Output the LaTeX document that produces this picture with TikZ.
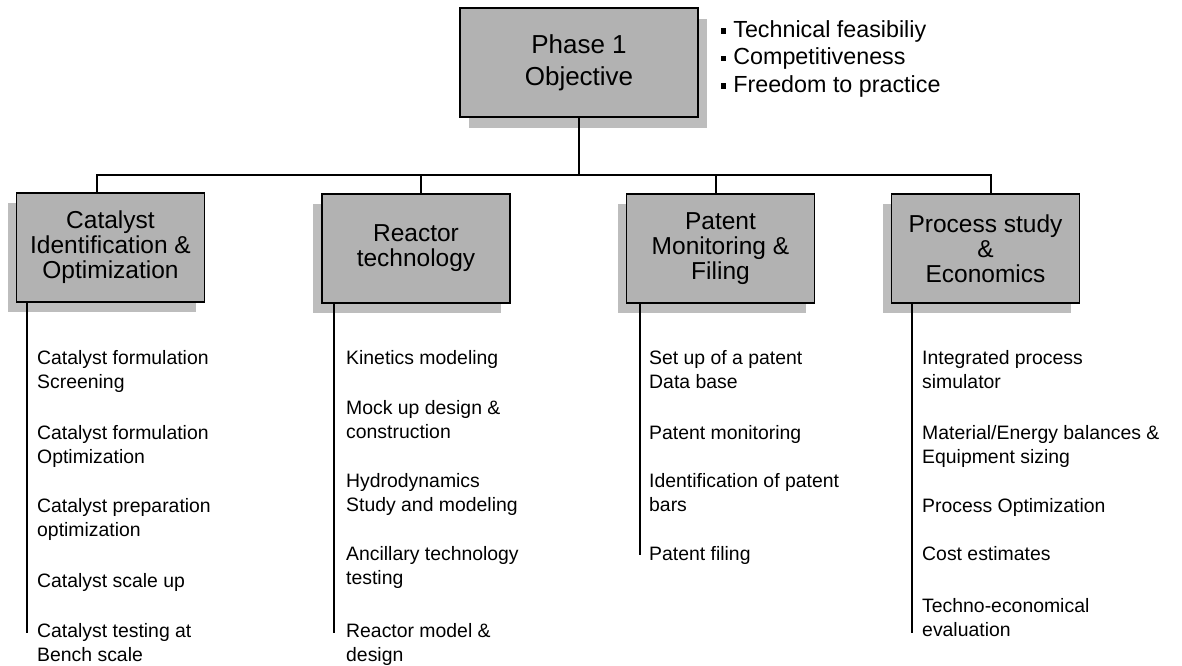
\documentclass[tikz,border=0pt]{standalone}
\usepackage{fontspec}
\setmainfont{Liberation Sans}
\usetikzlibrary{shadows}
\definecolor{boxgray}{gray}{0.70}
\definecolor{shadowgray}{gray}{0.74}
\begin{document}
\begin{tikzpicture}[x=1pt,y=-1pt,
  conn/.style={draw=black, line width=1.3pt},
  box/.style={draw=black, line width=1.3pt, fill=boxgray, minimum width=188pt,
    minimum height=109pt, align=center, inner sep=0pt,
    font=\fontsize{24.5}{25}\selectfont},
  rshadow/.style={drop shadow={opacity=1, fill=shadowgray, shadow xshift=9pt, shadow yshift=-11pt}},
  lshadow/.style={drop shadow={opacity=1, fill=shadowgray, shadow xshift=-9pt, shadow yshift=-10pt}},
  item/.style={anchor=base west, align=left, inner sep=0pt, font=\fontsize{19.4}{24}\selectfont},
  bullets/.style={anchor=base west, align=left, inner sep=0pt, font=\fontsize{23.3}{27.5}\selectfont}
]
\useasboundingbox (0,0) rectangle (1182,665);

% top box
\node[box, rshadow, minimum width=238pt, font=\fontsize{26}{32}\selectfont] (top) at (579,62.5) {Phase 1\\Objective};
\node[bullets] (goals) at (721,92.3) {\rule[0.3ex]{0.22em}{0.22em}\hspace{0.3em}Technical feasibiliy\\
\rule[0.3ex]{0.22em}{0.22em}\hspace{0.3em}Competitiveness\\
\rule[0.3ex]{0.22em}{0.22em}\hspace{0.3em}Freedom to practice};

% child boxes
\node[box, lshadow] (cat) at (110.5,247.5) {Catalyst\\Identification \&\\Optimization};
\node[box, lshadow] (rea) at (416,248.5) {Reactor\\technology};
\node[box, lshadow] (pat) at (720.5,248.5) {Patent\\Monitoring \&\\Filing};
\node[box, lshadow] (pro) at (985.5,248.5) {Process study\\\&\\Economics};

% tree connectors
\coordinate (bus) at (579,175);
\draw[conn] (top.south) -- (bus);
\draw[conn] ([xshift=-13.5pt]cat.north) |- (bus);
\draw[conn] ([xshift=5pt]rea.north) |- (bus);
\draw[conn] ([xshift=-4.5pt]pat.north) |- (bus);
\draw[conn] ([xshift=5.5pt]pro.north) |- (bus);

% list lines
\coordinate (catend) at (27,633);
\coordinate (reaend) at (334,633);
\coordinate (patend) at (640,555);
\coordinate (proend) at (912,633);
\draw[conn] (cat.south -| catend) -- (catend);
\draw[conn] (rea.south -| reaend) -- (reaend);
\draw[conn] (pat.south -| patend) -- (patend);
\draw[conn] (pro.south -| proend) -- (proend);

% catalyst items (base = last line)
\node[item] (c1) at (37,388) {Catalyst formulation\\Screening};
\node[item] (c2) at (37,463) {Catalyst formulation\\Optimization};
\node[item] (c3) at (37,536) {Catalyst preparation\\optimization};
\node[item] (c4) at (37,587) {Catalyst scale up};
\node[item] (c5) at (37,661) {Catalyst testing at\\Bench scale};

% reactor items
\node[item] (r1) at (346,364) {Kinetics modeling};
\node[item] (r2) at (346,438) {Mock up design \&\\construction};
\node[item] (r3) at (346,511) {Hydrodynamics\\Study and modeling};
\node[item] (r4) at (346,584) {Ancillary technology\\testing};
\node[item] (r5) at (346,661) {Reactor model \&\\design};

% patent items
\node[item] (p1) at (649,388) {Set up of a patent\\Data base};
\node[item] (p2) at (649,439) {Patent monitoring};
\node[item] (p3) at (649,511) {Identification of patent\\bars};
\node[item] (p4) at (649,560) {Patent filing};

% process items
\node[item] (e1) at (922,388) {Integrated process\\simulator};
\node[item] (e2) at (922,463) {Material/Energy balances \&\\Equipment sizing};
\node[item] (e3) at (922,512) {Process Optimization};
\node[item] (e4) at (922,560) {Cost estimates};
\node[item] (e5) at (922,636) {Techno-economical\\evaluation};
\end{tikzpicture}
\end{document}
